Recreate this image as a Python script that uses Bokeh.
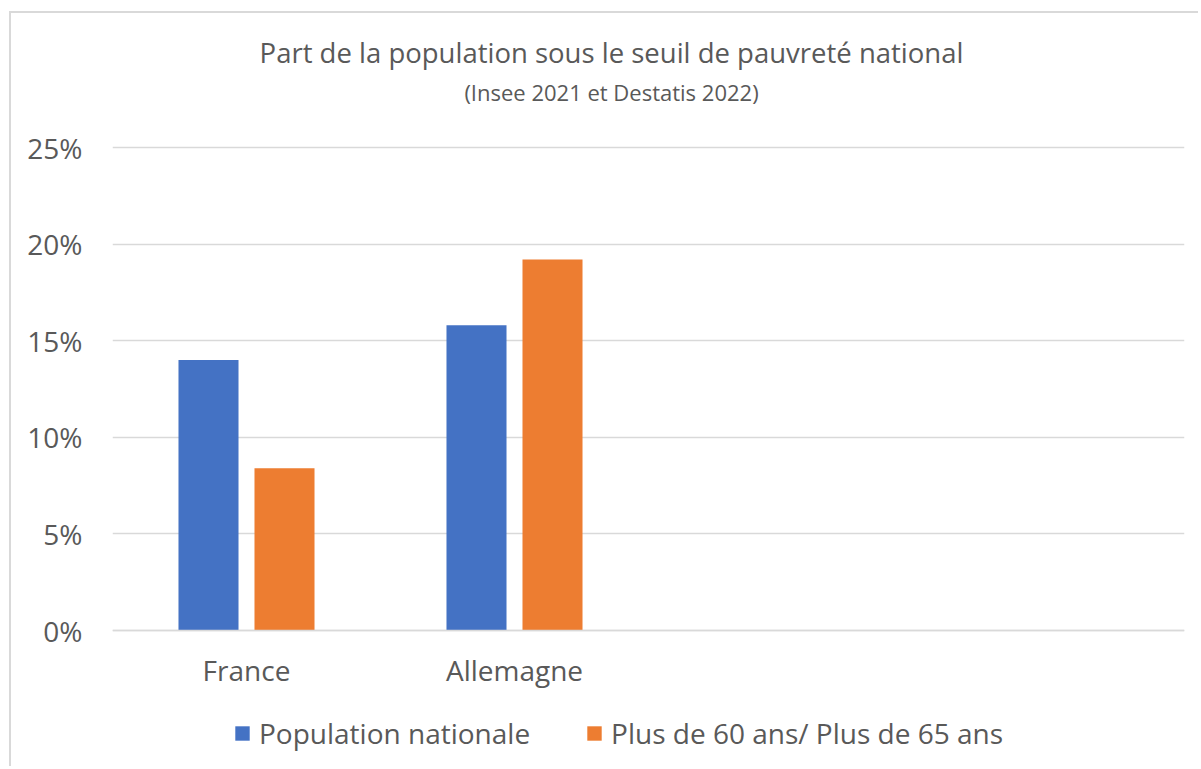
from bokeh.plotting import figure
from bokeh.models import (FactorRange, Range1d, ColumnDataSource, Legend, LegendItem,
                          NumeralTickFormatter, FixedTicker, Label)
from bokeh.transform import dodge
from bokeh.embed import file_html
from bokeh.resources import INLINE

categories = ["France", "Allemagne", " ", "  "]
countries = ["France", "Allemagne"]
population_nationale = [0.14, 0.158]
plus_60_65 = [0.084, 0.192]
y_ticks = [0, 0.05, 0.10, 0.15, 0.20, 0.25]
title_text = "Part de la population sous le seuil de pauvreté national"
subtitle_text = "(Insee 2021 et Destatis 2022)"
series_names = ["Population nationale", "Plus de 60 ans/ Plus de 65 ans"]

BLUE = "#4472C4"
ORANGE = "#ED7D31"
TXT = "#595959"
GRID = "#d9d9d9"
FONT = "Open Sans"

# layout (canvas pixels)
W, H = 1189, 755
FRAME_L, FRAME_R = 101, 16
ZERO_Y, TOP_Y = 617, 134          # canvas y of 0% and 25%
px_per_unit = (ZERO_Y - TOP_Y) / 0.25
y_end = 0.25 + TOP_Y / px_per_unit
y_start = -(H - ZERO_Y) / px_per_unit

src = ColumnDataSource(dict(cat=countries, pop=population_nationale, old=plus_60_65))

p = figure(x_range=FactorRange(factors=categories), y_range=Range1d(y_start, y_end),
           width=W, height=H, output_backend="svg", toolbar_location=None,
           min_border_left=FRAME_L, min_border_right=FRAME_R, min_border_top=0,
           min_border_bottom=0)
p.outline_line_color = None
p.background_fill_color = "white"
p.border_fill_color = "white"

r1 = p.vbar(x=dodge("cat", -0.1418, range=p.x_range), top="pop", width=0.224,
            source=src, fill_color=BLUE, line_color=None)
r2 = p.vbar(x=dodge("cat", 0.1418, range=p.x_range), top="old", width=0.224,
            source=src, fill_color=ORANGE, line_color=None)

p.yaxis.ticker = FixedTicker(ticks=y_ticks)
p.ygrid.ticker = FixedTicker(ticks=y_ticks)
p.yaxis.formatter = NumeralTickFormatter(format="0%")
p.yaxis.axis_line_color = None
p.yaxis.major_tick_line_color = None
p.yaxis.major_tick_out = 0
p.yaxis.major_tick_in = 0
p.yaxis.minor_tick_line_color = None
p.yaxis.major_label_standoff = 30
p.yaxis.major_label_text_font = FONT
p.yaxis.major_label_text_font_size = "28px"
p.yaxis.major_label_text_color = TXT

p.xaxis.fixed_location = 0
p.xaxis.axis_line_color = GRID
p.xaxis.axis_line_width = 1.5
p.xaxis.major_tick_line_color = None
p.xaxis.major_tick_out = 0
p.xaxis.major_tick_in = 0
p.xaxis.minor_tick_line_color = None
p.xaxis.major_label_standoff = 20
p.xaxis.major_label_text_font = FONT
p.xaxis.major_label_text_font_size = "28px"
p.xaxis.major_label_text_color = TXT

p.xgrid.grid_line_color = None
p.ygrid.grid_line_color = GRID
p.ygrid.grid_line_width = 1.5

p.add_layout(Label(x=499, y=716, x_units="screen", y_units="screen", text=title_text,
                   text_align="center", text_baseline="middle", text_font=FONT,
                   text_font_size="27.5px", text_color=TXT))
p.add_layout(Label(x=499, y=677, x_units="screen", y_units="screen", text=subtitle_text,
                   text_align="center", text_baseline="middle", text_font=FONT,
                   text_font_size="22px", text_color=TXT))

legend = Legend(items=[LegendItem(label=series_names[0], renderers=[r1]),
                       LegendItem(label=series_names[1], renderers=[r2])],
                orientation="horizontal", location=(121, 16),
                glyph_width=18, glyph_height=18, label_standoff=8, spacing=55,
                label_text_font=FONT, label_text_font_size="28px", label_text_color=TXT,
                background_fill_alpha=0, border_line_color=None, padding=0, margin=0)
p.add_layout(legend, "center")

p.styles = {"border-left": "2px solid #d9d9d9", "border-top": "2px solid #d9d9d9",
            "margin-left": "9px", "margin-top": "11px"}

open("out.html", "w").write(file_html(p, INLINE))
